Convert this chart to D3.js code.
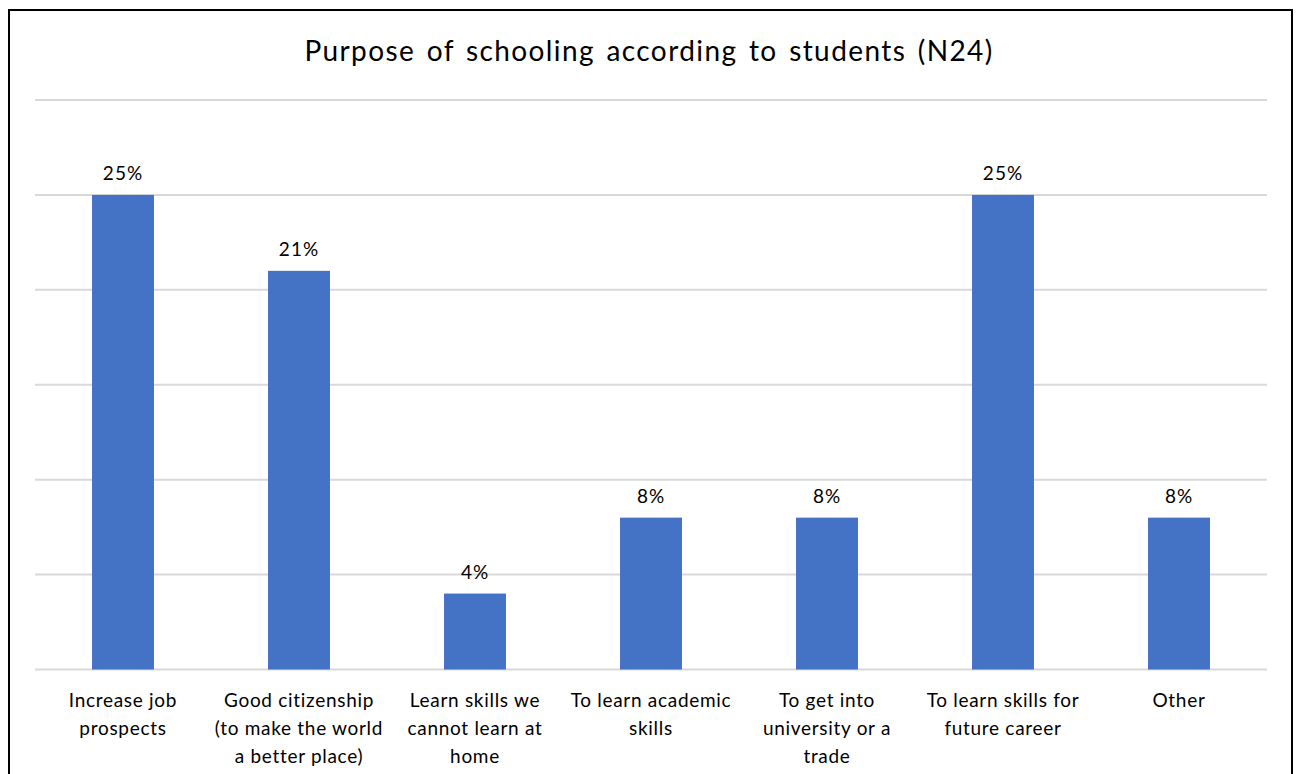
<!DOCTYPE html>
<html><head><meta charset="utf-8">
<script src="https://cdn.jsdelivr.net/npm/d3@7"></script>
<style>html,body{margin:0;padding:0;background:#fff;}</style>
</head><body>
<script>
const title = "Purpose of schooling according to students (N24)";
const categories = [
  ["Increase job", "prospects"],
  ["Good citizenship", "(to make the world", "a better place)"],
  ["Learn skills we", "cannot learn at", "home"],
  ["To learn academic", "skills"],
  ["To get into", "university or a", "trade"],
  ["To learn skills for", "future career"],
  ["Other"]
];
const values = [25, 21, 4, 8, 8, 25, 8];
const valueLabels = ["25%", "21%", "4%", "8%", "8%", "25%", "8%"];
const yTicks = [0, 5, 10, 15, 20, 25, 30];

const W = 1299, H = 774;
const font = "Lato, 'Open Sans', sans-serif";
const svg = d3.select("body").append("svg").attr("width", W).attr("height", H);

svg.append("rect").attr("x", 9).attr("y", 10).attr("width", 1283).attr("height", 780)
  .attr("fill", "#fff").attr("stroke", "#000").attr("stroke-width", 2);

svg.append("text").attr("x", 649).attr("y", 61).attr("text-anchor", "middle")
  .attr("font-family", font).attr("font-size", 28).attr("letter-spacing", 1.4)
  .attr("word-spacing", 3).attr("fill", "#000").text(title);

const x = d3.scaleBand().domain(d3.range(categories.length)).range([35, 1267])
  .paddingInner(0.648).paddingOuter(0.324);
const y = d3.scaleLinear().domain([0, 30]).range([669.5, 100]);

svg.append("g").selectAll("line").data(yTicks).join("line")
  .attr("x1", 35).attr("x2", 1267).attr("y1", d => y(d)).attr("y2", d => y(d))
  .attr("stroke", "#d9d9d9").attr("stroke-width", 2);

svg.append("g").selectAll("rect").data(values).join("rect")
  .attr("x", (d, i) => x(i)).attr("width", x.bandwidth())
  .attr("y", d => y(d)).attr("height", d => y(0) - y(d))
  .attr("fill", "#4472c4");

svg.append("g").selectAll("text").data(values).join("text")
  .attr("x", (d, i) => x(i) + x.bandwidth() / 2).attr("y", d => y(d) - 15)
  .attr("text-anchor", "middle").attr("font-family", font).attr("font-size", 19)
  .attr("letter-spacing", 1).attr("fill", "#000").text((d, i) => valueLabels[i]);

const lab = svg.append("g").selectAll("text").data(categories).join("text")
  .attr("text-anchor", "middle").attr("font-family", font).attr("font-size", 19)
  .attr("letter-spacing", 0.7).attr("fill", "#000");
lab.each(function(lines, i) {
  const t = d3.select(this);
  lines.forEach((l, j) => {
    t.append("tspan").attr("x", x(i) + x.bandwidth() / 2).attr("y", 707 + j * 28).text(l);
  });
});
</script>
</body></html>
